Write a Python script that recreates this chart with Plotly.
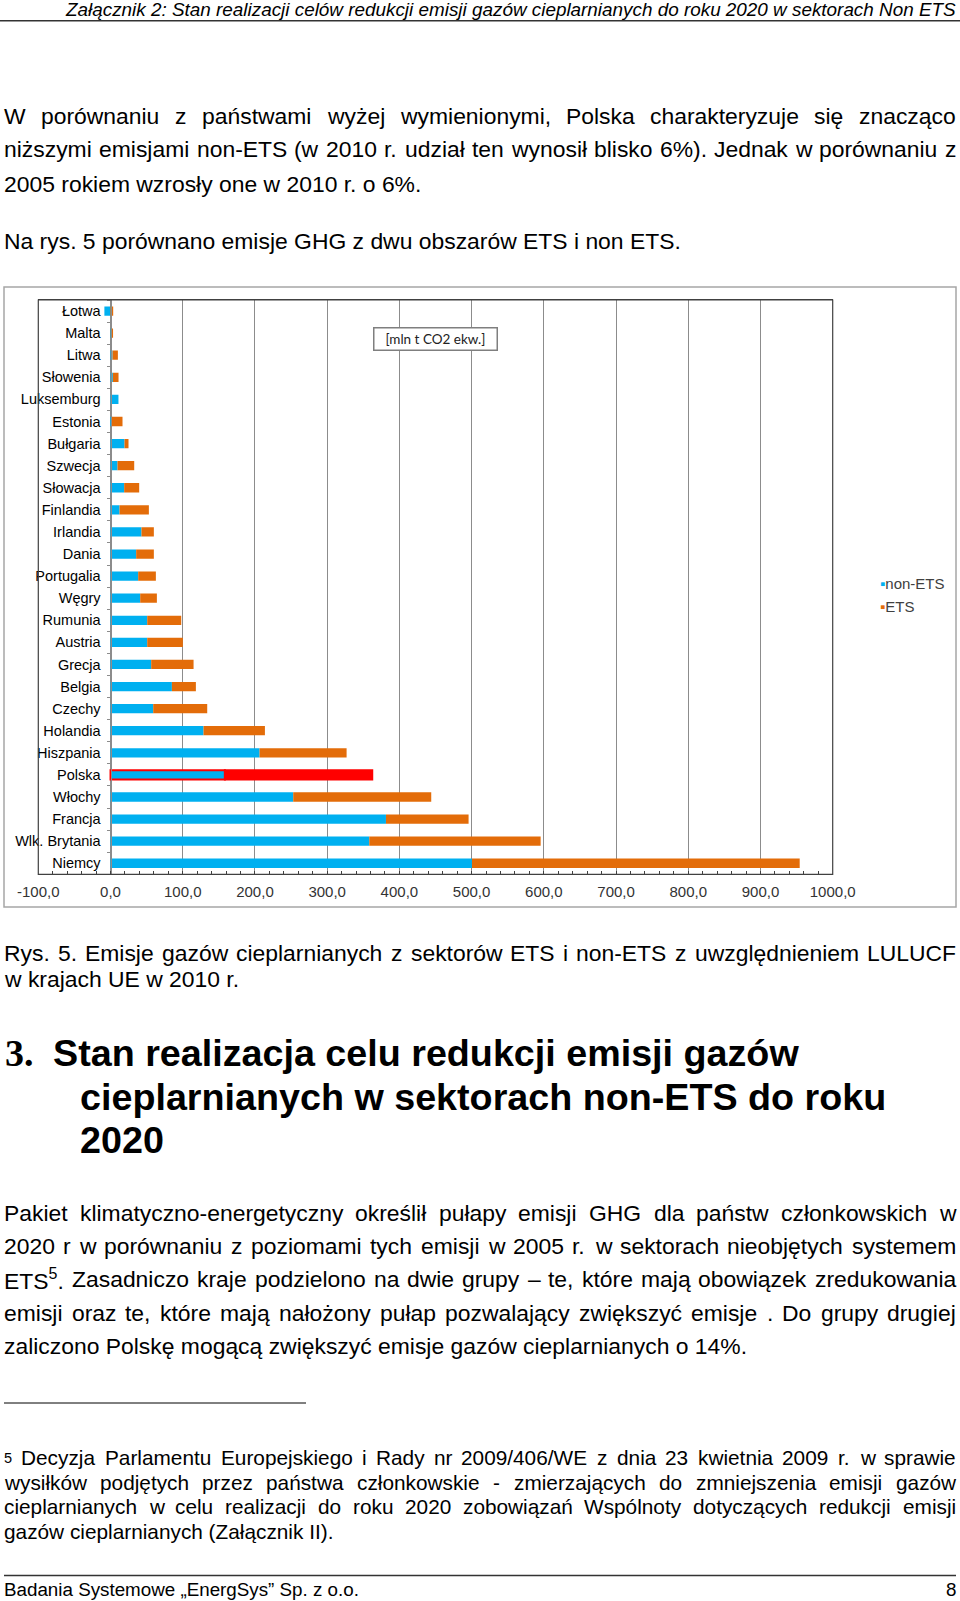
import plotly.graph_objects as go

# ---------------- data ----------------
countries = ["Łotwa", "Malta", "Litwa", "Słowenia", "Luksemburg", "Estonia", "Bułgaria",
             "Szwecja", "Słowacja", "Finlandia", "Irlandia", "Dania", "Portugalia", "Węgry",
             "Rumunia", "Austria", "Grecja", "Belgia", "Czechy", "Holandia", "Hiszpania",
             "Polska", "Włochy", "Francja", "Wlk. Brytania", "Niemcy"]
non_ets = [-8.5, 0.3, 2.8, 3.2, 11.0, 1.4, 19.4, 9.7, 18.9, 12.5, 42.9, 35.5, 38.3, 41.1,
           50.8, 50.8, 56.3, 85.0, 59.1, 128.8, 206.4, 158.4, 253.0, 381.4, 358.3, 500.5]
ets = [3.7, 3.2, 7.4, 7.9, 0.0, 15.2, 5.5, 23.1, 20.8, 40.6, 17.1, 24.5, 24.5, 23.1,
       47.1, 49.4, 58.7, 33.2, 74.8, 85.0, 120.5, 204.0, 191.1, 114.4, 237.3, 453.8]
highlight = "Polska"
tick_values = [-100, 0, 100, 200, 300, 400, 500, 600, 700, 800, 900, 1000]
tick_labels = ["-100,0", "0,0", "100,0", "200,0", "300,0", "400,0", "500,0", "600,0",
               "700,0", "800,0", "900,0", "1000,0"]
unit_label = "[mln t CO2 ekw.]"
series_names = ["non-ETS", "ETS"]

header = "Załącznik 2: Stan realizacji celów redukcji emisji gazów cieplarnianych do roku 2020 w sektorach Non ETS"
para1 = [
    ("W porównaniu z państwami wyżej wymienionymi, Polska charakteryzuje się znacząco", True),
    ("niższymi emisjami non-ETS (w 2010 r. udział ten wynosił blisko 6%). Jednak w porównaniu z", True),
    ("2005 rokiem wzrosły one w 2010 r. o 6%.", False),
]
para1b = "Na rys. 5 porównano emisje GHG z dwu obszarów ETS i non ETS."
caption = [
    ("Rys. 5. Emisje gazów cieplarnianych z sektorów ETS i non-ETS z uwzględnieniem LULUCF", True),
    ("w krajach UE w 2010 r.", False),
]
heading_num = "3."
heading = ["Stan realizacja celu redukcji emisji gazów",
           "cieplarnianych w sektorach non-ETS do roku",
           "2020"]
para2 = [
    ("Pakiet klimatyczno-energetyczny określił pułapy emisji GHG dla państw członkowskich w", True),
    ("2020 r w porównaniu z poziomami tych emisji w 2005 r. w sektorach nieobjętych systemem", True),
    ("ETS<sup>5</sup>. Zasadniczo kraje podzielono na dwie grupy – te, które mają obowiązek zredukowania", True),
    ("emisji oraz te, które mają nałożony pułap pozwalający zwiększyć emisje . Do grupy drugiej", True),
    ("zaliczono Polskę mogącą zwiększyć emisje gazów cieplarnianych o 14%.", False),
]
footnote = [
    ("<sup>5</sup> Decyzja Parlamentu Europejskiego i Rady nr 2009/406/WE z dnia 23 kwietnia 2009 r. w sprawie", True),
    ("wysiłków podjętych przez państwa członkowskie - zmierzających do zmniejszenia emisji gazów", True),
    ("cieplarnianych w celu realizacji do roku 2020 zobowiązań Wspólnoty dotyczących redukcji emisji", True),
    ("gazów cieplarnianych (Załącznik II).", False),
]
footer_left = "Badania Systemowe „EnergSys” Sp. z o.o."
footer_right = "8"

# ---------------- helpers ----------------
W, H = 960, 1601


def px(x):
    return x / W


def py(y):
    return 1 - y / H


AW = {' ': 278, '!': 278, '"': 355, '%': 889, '(': 333, ')': 333, ',': 278, '-': 333, '.': 278,
      '/': 278, ':': 278, ';': 278, '–': 556, '„': 333, '”': 333, "'": 191}
for d in "0123456789":
    AW[d] = 556
AW.update(dict(zip("ABCDEFGHIJKLMNOPQRSTUVWXYZ",
                   [667, 667, 722, 722, 667, 611, 778, 722, 278, 500, 667, 556, 833, 722, 778,
                    667, 778, 722, 667, 611, 722, 667, 944, 667, 667, 611])))
AW.update(dict(zip("abcdefghijklmnopqrstuvwxyz",
                   [556, 556, 500, 556, 556, 278, 556, 556, 222, 222, 500, 222, 833, 556, 556,
                    556, 556, 333, 500, 278, 556, 500, 722, 500, 500, 500])))
AW.update({'ą': 556, 'ć': 500, 'ę': 556, 'ł': 222, 'ń': 556, 'ó': 556, 'ś': 500, 'ź': 500,
           'ż': 500, 'Ł': 556, 'Ś': 667, 'Ż': 611, 'Ź': 611, 'Ć': 722, 'Ó': 778, 'Ń': 722})


def text_w(s, size):
    total = 0.0
    scale = 1.0
    i = 0
    while i < len(s):
        if s.startswith("<sup>", i):
            scale = 0.7
            i += 5
            continue
        if s.startswith("</sup>", i):
            scale = 1.0
            i += 6
            continue
        total += AW.get(s[i], 556) * scale
        i += 1
    return total * size / 1000.0


FONT = "Liberation Sans, Arial, sans-serif"
annotations = []


def add_text(txt, x, y, size, xanchor="left", family=FONT, color="#000000"):
    annotations.append(dict(text=txt, x=px(x), y=py(y), xref="paper", yref="paper",
                            xanchor=xanchor, yanchor="middle", showarrow=False,
                            borderpad=0, borderwidth=0,
                            font=dict(family=family, size=size, color=color)))


def add_line(txt, justify, y, size, x0=4, x1=956):
    if not justify:
        add_text(txt, x0, y, size)
        return
    words = txt.split(" ")
    widths = [text_w(w, size) for w in words]
    gap = (x1 - x0 - sum(widths)) / (len(words) - 1)
    x = x0
    for w, wd in zip(words, widths):
        add_text(w, x, y, size)
        x += wd + gap


BODY = 22.9
# header
hsize = 890 / text_w(header, 1.0)
add_text("<i>" + header + "</i>", 956, 9.5, hsize, xanchor="right")
for (t, j), y in zip(para1, [116.4, 149.5, 183.5]):
    add_line(t, j, y, BODY)
add_text(para1b, 4, 241, BODY)
for (t, j), y in zip(caption, [953, 979]):
    add_line(t, j, y, BODY)
add_text("<b>" + heading_num + "</b>", 5, 1053, 38, family="Liberation Serif, Times New Roman, serif")
for t, x, y in zip(heading, [53, 80, 80], [1053, 1097, 1140]):
    add_text("<b>" + t + "</b>", x, y, 37.7)
for (t, j), y in zip(para2, [1213.3, 1246, 1279.3, 1312.5, 1345.5]):
    add_line(t, j, y, BODY)
for (t, j), y in zip(footnote, [1457.5, 1482, 1506.5, 1531]):
    add_line(t, j, y, 20.8)
add_text(footer_left, 4, 1589, 18.8)
add_text(footer_right, 956, 1589, 18.8, xanchor="right")

# ---------------- chart ----------------
x_dom = [px(38.3), px(832.7)]
y_dom = [py(874.3), py(300)]
xr = [tick_values[0], tick_values[-1]]
zero_pos = x_dom[0] + (0 - xr[0]) / (xr[1] - xr[0]) * (x_dom[1] - x_dom[0])

BLUE, ORANGE, RED = "#00B0F0", "#E36C09", "#FF0000"
line_cols = [RED if c == highlight else "rgba(0,0,0,0)" for c in countries]
line_ws = [2 if c == highlight else 0 for c in countries]

fig = go.Figure()
fig.add_trace(go.Bar(y=countries, x=non_ets, orientation="h", name=series_names[0], width=0.42,
                     marker=dict(color=BLUE, line=dict(color=line_cols, width=line_ws)),
                     showlegend=False))
fig.add_trace(go.Bar(y=countries, x=ets, orientation="h", name=series_names[1], width=0.42,
                     marker=dict(color=[RED if c == highlight else ORANGE for c in countries],
                                 line=dict(color=line_cols, width=line_ws)),
                     showlegend=False))
for nm, col in zip(series_names, [BLUE, ORANGE]):
    fig.add_trace(go.Scatter(x=[None], y=[None], mode="markers",
                             name='<span style="color:%s">▪</span>%s' % (col, nm),
                             marker=dict(size=1, color="rgba(0,0,0,0)"), showlegend=True))

fig.update_layout(
    width=W, height=H, margin=dict(l=0, r=0, t=0, b=0, autoexpand=False),
    paper_bgcolor="white", plot_bgcolor="white",
    barmode="relative", bargap=0.5,
    font=dict(family=FONT, color="#000"),
    xaxis=dict(domain=x_dom, range=xr, tickvals=tick_values, ticktext=tick_labels,
               showgrid=True, gridcolor="#8c8c8c", gridwidth=1, zeroline=False,
               showline=True, linecolor="#404040", linewidth=1.2, mirror=True,
               ticks="inside", ticklen=3, tickcolor="#404040", automargin=False,
               minor=dict(dtick=20, ticks="inside", ticklen=3, tickcolor="#404040", showgrid=False),
               tickfont=dict(size=15, color="#333333"), ticklabelstandoff=4),
    yaxis=dict(domain=y_dom, type="category", categoryorder="array", categoryarray=countries,
               autorange="reversed", anchor="free", position=zero_pos, automargin=False,
               showline=True, linecolor="#8c8c8c", linewidth=1, showgrid=False, zeroline=False,
               ticks="outside", ticklen=4, tickcolor="#8c8c8c", tickson="boundaries",
               tickfont=dict(size=14.5, color="#000"), ticklabelstandoff=7),
    legend=dict(x=px(840), xanchor="left", y=py(567), yanchor="top",
                bgcolor="rgba(0,0,0,0)", font=dict(size=15, color="#404040"), itemwidth=30),
    annotations=annotations + [dict(text=unit_label, x=px(435.5), y=py(339), xref="paper",
                                    yref="paper", xanchor="center", yanchor="middle",
                                    showarrow=False, width=122, height=21,
                                    bordercolor="#7f7f7f", borderwidth=1.5, borderpad=0,
                                    bgcolor="white",
                                    font=dict(family="Lato, Open Sans, sans-serif", size=13.5,
                                              color="#222"))],
    shapes=[
        dict(type="rect", xref="paper", yref="paper", x0=x_dom[0], x1=x_dom[1], y0=y_dom[0],
             y1=y_dom[1], line=dict(color="#404040", width=1.2), layer="above"),
        dict(type="rect", xref="paper", yref="paper", x0=px(4), x1=px(956), y0=py(907),
             y1=py(287), line=dict(color="#a6a6a6", width=1.5)),
        dict(type="line", xref="paper", yref="paper", x0=px(0), x1=px(960), y0=py(20.7),
             y1=py(20.7), line=dict(color="#333333", width=1.5)),
        dict(type="line", xref="paper", yref="paper", x0=px(4), x1=px(306), y0=py(1403),
             y1=py(1403), line=dict(color="#000000", width=1)),
        dict(type="line", xref="paper", yref="paper", x0=px(4), x1=px(956), y0=py(1575.5),
             y1=py(1575.5), line=dict(color="#333333", width=1.5)),
    ],
)

fig.write_html("out.html", config={"displayModeBar": False},
               post_script="document.body.style.margin='0px';")
